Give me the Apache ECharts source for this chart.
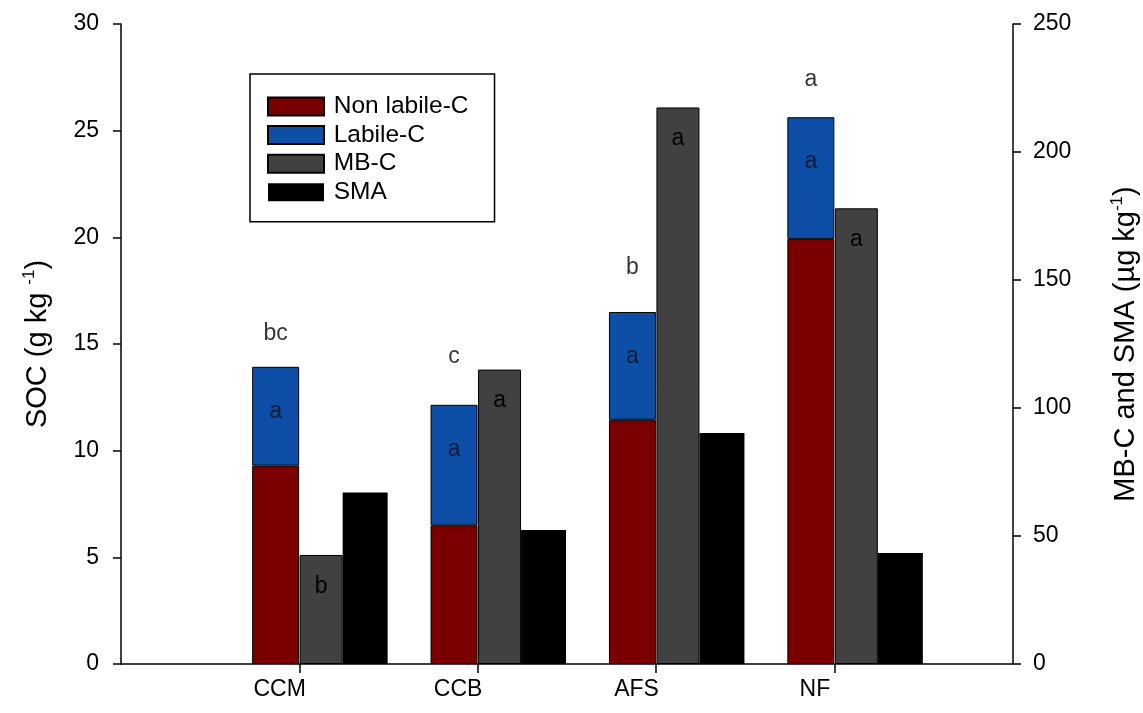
<!DOCTYPE html>
<html>
<head>
<meta charset="utf-8">
<script src="https://cdn.jsdelivr.net/npm/echarts@6/dist/echarts.min.js"></script>
<style>html,body{margin:0;padding:0;background:#fff;overflow:hidden}#c{width:1143px;height:713px}</style>
</head>
<body>
<div id="c"></div>
<script>
// ---- data ----
const sites = ['CCM', 'CCB', 'AFS', 'NF'];
const nonLabileC = [9.3, 6.5, 11.45, 19.93];     // g kg-1
const labileC = [4.63, 5.65, 5.05, 5.7];         // g kg-1
const mbC = [42.6, 115.0, 217.4, 178.0];         // ug kg-1
const sma = [67.0, 52.3, 90.2, 43.4];            // ug kg-1
const sigTotal = ['bc', 'c', 'b', 'a'];
const sigTotalY = [15.5, 14.4, 18.6, 27.4];      // SOC units, letter position
const sigLabile = ['a', 'a', 'a', 'a'];
const sigMBC = ['b', 'a', 'a', 'a'];
const leftTicks = [0, 5, 10, 15, 20, 25, 30];
const rightTicks = [0, 50, 100, 150, 200, 250];
const xTickPos = [1, 2, 3, 4];                   // band boundaries between groups

const FONT = 'Liberation Sans, Arial, sans-serif';
// 5 bands: stacked SOC bar sits at the right of band k, MB-C and SMA at the left of band k+1
const xCats = sites.concat(['']);
const shiftL = v => v.concat([null]);
const shiftR = v => [null].concat(v);

const nameRich = {
  t: { fontFamily: FONT, fontSize: 29, color: '#000', lineHeight: 34 },
  s: { fontFamily: FONT, fontSize: 17, color: '#000', verticalAlign: 'top', lineHeight: 34, padding: [0, 0, 16, 0] }
};

const chart = echarts.init(document.getElementById('c'));
chart.setOption({
  animation: false,
  backgroundColor: '#fff',
  grid: { left: 121, right: 130, top: 24, bottom: 49, containLabel: false, outerBoundsMode: 'none' },
  legend: {
    data: ['Non labile-C', 'Labile-C', 'MB-C', 'SMA'],
    orient: 'vertical', left: 250, top: 74,
    icon: 'rect',
    itemWidth: 56, itemHeight: 18, itemGap: 3.6,
    padding: [20, 26, 17, 17],
    borderColor: '#000', borderWidth: 1.5,
    formatter: n => '{g| }{t|' + n + '}',
    textStyle: { rich: {
      g: { fontFamily: FONT, fontSize: 17, lineHeight: 24 },
      t: { fontFamily: FONT, fontSize: 24.5, color: '#000', lineHeight: 24 }
    } },
    selectedMode: false
  },
  xAxis: [
    {
      type: 'category', data: xCats,
      axisLine: { lineStyle: { color: '#000', width: 1.5 } },
      axisTick: { show: false },
      axisLabel: { fontFamily: FONT, fontSize: 23, color: '#000', margin: 14, padding: [0, 0, 0, 139], interval: 0 },
      splitLine: { show: false }
    },
    {
      type: 'value', min: 0, max: 5, position: 'bottom',
      axisLine: { show: false },
      axisTick: { show: true, length: 9, customValues: xTickPos, lineStyle: { color: '#000', width: 1.5 } },
      axisLabel: { show: false },
      splitLine: { show: false }
    }
  ],
  yAxis: [
    {
      type: 'value', min: 0, max: 30, interval: 5, position: 'left',
      name: '{t|SOC (g kg }{s|-1}{t|)}', nameLocation: 'middle', nameGap: 66, nameRotate: 90,
      nameTextStyle: { rich: nameRich },
      axisLine: { show: true, lineStyle: { color: '#000', width: 1.5 } },
      axisTick: { show: true, length: 8, lineStyle: { color: '#000', width: 1.5 } },
      axisLabel: { fontFamily: FONT, fontSize: 23, color: '#000', margin: 22 },
      splitLine: { show: false }
    },
    {
      type: 'value', min: 0, max: 250, interval: 50, position: 'right',
      name: '{t|MB-C and SMA (µg kg}{s|-1}{t|)}', nameLocation: 'middle', nameGap: 96, nameRotate: 90,
      nameTextStyle: { rich: nameRich },
      axisLine: { show: true, lineStyle: { color: '#000', width: 1.5 } },
      axisTick: { show: true, length: 8, lineStyle: { color: '#000', width: 1.5 } },
      axisLabel: { fontFamily: FONT, fontSize: 23, color: '#000', margin: 20 },
      splitLine: { show: false }
    }
  ],
  series: [
    {
      name: 'MB-C', type: 'bar', yAxisIndex: 1, data: shiftR(mbC),
      barWidth: 43, barGap: 0,
      itemStyle: { color: '#414141', borderColor: '#000', borderWidth: 1 },
      label: { show: true, position: 'insideTop', distance: 20, fontFamily: FONT, fontSize: 23, color: '#000',
        formatter: p => sigMBC[p.dataIndex - 1] || '' }
    },
    {
      name: 'SMA', type: 'bar', yAxisIndex: 1, data: shiftR(sma),
      barWidth: 45, barGap: 0,
      itemStyle: { color: '#000' }
    },
    {
      name: 'gap', type: 'bar', yAxisIndex: 0, data: [null, null, null, null, null],
      barWidth: 42.9, barGap: 0, silent: true
    },
    {
      name: 'Non labile-C', type: 'bar', yAxisIndex: 0, stack: 'soc', data: shiftL(nonLabileC),
      barWidth: 47, barGap: 0,
      itemStyle: { color: '#7a0000', borderColor: '#000', borderWidth: 1 }
    },
    {
      name: 'Labile-C', type: 'bar', yAxisIndex: 0, stack: 'soc', data: shiftL(labileC),
      barWidth: 47, barGap: 0,
      itemStyle: { color: '#0d4fa6', borderColor: '#000', borderWidth: 1 },
      label: { show: true, position: 'insideTop', distance: 33, fontFamily: FONT, fontSize: 23, color: '#0a1a3a',
        formatter: p => sigLabile[p.dataIndex] || '' }
    },
    {
      name: 'letters', type: 'scatter', yAxisIndex: 0, symbolSize: 0, silent: true,
      data: sigTotalY.map((y, i) => [i, y]),
      label: { show: true, position: 'inside', offset: [65.5, 0], fontFamily: FONT, fontSize: 23, color: '#000',
        formatter: p => sigTotal[p.dataIndex] }
    }
  ]
});
</script>
</body>
</html>
